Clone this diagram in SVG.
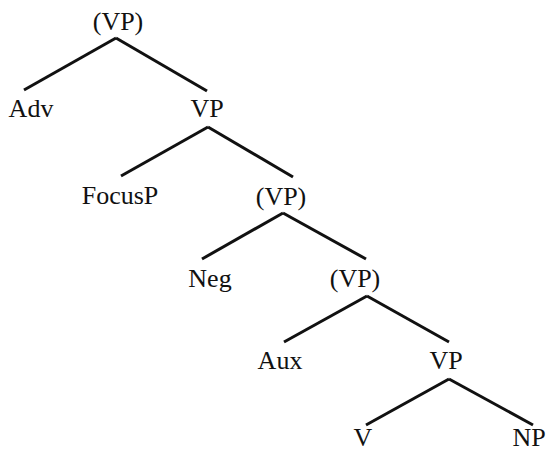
<svg xmlns="http://www.w3.org/2000/svg" width="548" height="454" viewBox="0 0 548 454">
<style>
text{font-family:"Liberation Serif","Times New Roman",serif;font-size:26px;fill:#111;text-anchor:middle}
.e line{stroke:#111;stroke-width:3;stroke-linecap:butt}
</style>
<rect width="548" height="454" fill="#fff"/>
<g id="edges" class="e">
<line x1="116" y1="38" x2="24" y2="90"/>
<line x1="116" y1="38" x2="207" y2="91"/>
<line x1="208" y1="127" x2="121" y2="176"/>
<line x1="208" y1="127" x2="293" y2="177"/>
<line x1="283" y1="213" x2="202" y2="259"/>
<line x1="283" y1="213" x2="366" y2="259"/>
<line x1="367" y1="296" x2="284" y2="342"/>
<line x1="367" y1="296" x2="449" y2="342"/>
<line x1="449" y1="379" x2="366" y2="425"/>
<line x1="449" y1="379" x2="533" y2="425"/>
</g>
<g id="n-vp1"><text x="118" y="30">(VP)</text></g>
<g id="n-adv"><text x="31" y="117">Adv</text></g>
<g id="n-vp2"><text x="207" y="117">VP</text></g>
<g id="n-focusp"><text x="120" y="204">FocusP</text></g>
<g id="n-vp3"><text x="281" y="205">(VP)</text></g>
<g id="n-neg"><text x="210" y="287">Neg</text></g>
<g id="n-vp4"><text x="355" y="287">(VP)</text></g>
<g id="n-aux"><text x="280" y="369">Aux</text></g>
<g id="n-vp5"><text x="446" y="369">VP</text></g>
<g id="n-v"><text x="363" y="446">V</text></g>
<g id="n-np"><text x="529" y="446">NP</text></g>
</svg>
